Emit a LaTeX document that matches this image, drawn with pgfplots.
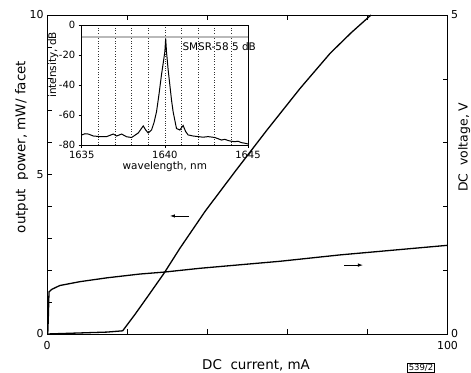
\documentclass[border=0pt]{standalone}
\usepackage{pgfplots}
\pgfplotsset{compat=1.18}
\usepackage{fontspec}
\setmainfont{DejaVu Sans}
\usetikzlibrary{arrows.meta}
\begin{document}
\begin{tikzpicture}
% main axis: power vs current
\begin{axis}[
  at={(0bp,0bp)}, anchor=south west,
  scale only axis, width=400.5bp, height=319bp,
  xmin=0, xmax=100, ymin=0, ymax=10,
  axis line style={line width=0.7bp},
  tick align=inside, major tick length=5bp,
  tick style={line width=0.6bp, black},
  xtick={0,20,40,60,80,100}, xticklabels={0,,,,,100},
  xtick pos=both,
  ytick={0,1,...,10}, yticklabels={0,,,,,5,,,,,10},
  ytick pos=left,
  tick label style={font=\fontsize{11}{11}\selectfont},
  xticklabel style={yshift=-4bp},
  xlabel={DC\ \ current, mA},
  xlabel style={font=\fontsize{13.5}{13.5}\selectfont, at={(axis description cs:0.522,-0.097)}, anchor=center},
  ylabel={output\ \ power, mW/ facet},
  ylabel style={font=\fontsize{13.5}{13.5}\selectfont, at={(axis description cs:-0.0799,0.586)}, anchor=north, inner sep=0pt},
]
\addplot[black, line width=1.3bp] coordinates {
 (0,0) (5,0.02) (10,0.04) (15,0.06) (18.9,0.1) (22,0.62) (25,1.15) (29.2,1.9)
 (33.2,2.69) (39.5,3.85) (47,5.1) (54.9,6.39) (63.2,7.70) (70.7,8.80) (76,9.45) (80.9,10.0)
};
\draw[-{Latex[length=5bp,width=3.5bp]}, line width=0.8bp] (axis cs:35.5,3.70) -- (axis cs:30.7,3.70);
\draw[-{Latex[length=5bp,width=3.5bp]}, line width=0.8bp] (axis cs:74.2,2.16) -- (axis cs:78.9,2.16);
\end{axis}
% right axis: voltage
\begin{axis}[
  at={(0bp,0bp)}, anchor=south west,
  scale only axis, width=400.5bp, height=319bp,
  xmin=0, xmax=100, ymin=0, ymax=5,
  axis x line=none, axis y line*=right,
  axis line style={line width=0.7bp, -},
  tick align=inside, major tick length=5bp,
  tick style={line width=0.6bp, black},
  ytick={0,1,...,5}, yticklabels={0,,,,,5},
  tick label style={font=\fontsize{11}{11}\selectfont},
  ylabel={DC\ \ voltage, V},
  ylabel style={font=\fontsize{12.5}{12.5}\selectfont, at={(axis description cs:1.0262,0.586)}, anchor=north, inner sep=0pt},
]
\addplot[black, line width=1.3bp] coordinates {
 (0,0) (0.2,0.02) (0.35,0.3) (0.5,0.66) (1.2,0.70) (3.2,0.76) (8.2,0.82) (14.9,0.88)
 (23.2,0.94) (29.2,0.97) (38.2,1.03) (58.2,1.14) (73.2,1.24) (100,1.39)
};
\end{axis}
% inset spectrum
\begin{axis}[
  at={(34.7bp,189bp)}, anchor=south west,
  scale only axis, width=166.3bp, height=120bp,
  xmin=1635, xmax=1645, ymin=-80, ymax=0,
  axis background/.style={fill=white},
  axis line style={line width=0.6bp},
  tick align=outside, major tick length=3bp,
  tick style={line width=0.5bp, black},
  xtick={1635,1640,1645}, xticklabels={1635,1640,1645},
  minor xtick={1636,1637,1638,1639,1641,1642,1643,1644},
  xtick pos=bottom, ytick pos=left,
  ytick={-80,-60,-40,-20,0}, yticklabels={-80,-60,-40,-20,0},
  xmajorgrids, xminorgrids,
  grid style={dotted, black!80, line width=0.6bp},
  minor grid style={dotted, black!80, line width=0.6bp},
  minor tick length=0pt,
  tick label style={font=\fontsize{10}{10}\selectfont},
  xlabel={wavelength, nm},
  xlabel style={font=\fontsize{10.5}{10.5}\selectfont, yshift=4bp},
  ylabel={intensity, dB},
  ylabel style={font=\fontsize{10.5}{10.5}\selectfont, at={(axis description cs:-0.2026,0.667)}, anchor=north, inner sep=0pt},
  clip=false,
]
\addplot[gray!55, line width=1.4bp] coordinates {(1635,-8) (1645,-8)};
\addplot[black, line width=1bp] coordinates {
 (1635,-73.3) (1635.2,-72.5) (1635.4,-72.7) (1635.7,-74) (1636.1,-74.4) (1636.5,-74.4)
 (1636.9,-72.7) (1637.1,-74) (1637.4,-72.7) (1637.7,-74.5) (1638.0,-75) (1638.4,-72)
 (1638.7,-67.3) (1638.85,-70) (1639.0,-72) (1639.2,-70) (1639.35,-65) (1639.5,-57.8)
 (1639.65,-46) (1639.8,-33) (1639.92,-24) (1640.0,-17.8) (1640.05,-9) (1640.1,-18)
 (1640.2,-30) (1640.3,-40) (1640.4,-50) (1640.5,-58) (1640.7,-69) (1640.9,-70)
 (1641.1,-67) (1641.25,-71) (1641.4,-73.3) (1641.7,-74) (1642.0,-74.4) (1642.3,-74.8)
 (1642.6,-74.4) (1643.0,-75) (1643.2,-75.8) (1643.4,-76.7) (1643.6,-76.2) (1643.8,-77)
 (1644.0,-77.5) (1644.2,-77.8) (1644.4,-77.5) (1644.6,-78.4) (1644.8,-78.8) (1645,-79.3)
};
\node[anchor=west, inner sep=0pt, font=\fontsize{10.5}{10.5}\selectfont] at (axis cs:1641.05,-14.7) {SMSR-58 5 dB};
\end{axis}
\node[draw, line width=0.5bp, inner sep=1.2bp, font=\fontsize{8.5}{8.5}\selectfont] at (374bp,-34bp) {539/2};
\pgfresetboundingbox
\path[use as bounding box] (-47bp,-39bp) rectangle (424bp,334bp);
\end{tikzpicture}
\end{document}
